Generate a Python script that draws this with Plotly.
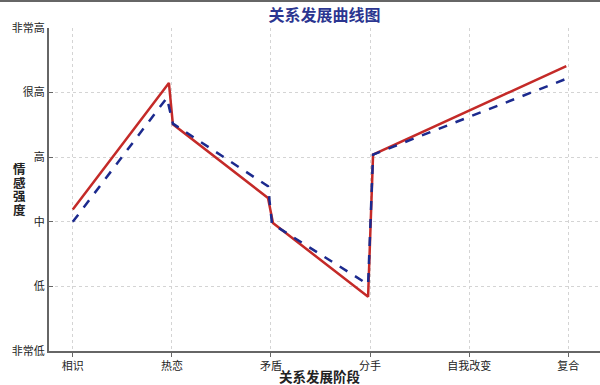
import plotly.graph_objects as go

categories = ["相识", "热恋", "矛盾", "分手", "自我改变", "复合"]
level_labels = ["非常低", "低", "中", "高", "很高", "非常高"]

red_x = [0, 0.97, 1.01, 1.97, 2.02, 2.98, 3.03, 4.98]
red_y = [2.19, 4.15, 3.51, 2.37, 1.98, 0.84, 3.04, 4.41]

blue_x = [0, 0.95, 1.01, 1.97, 2.01, 2.98, 3.03, 4.99]
blue_y = [2.0, 3.92, 3.52, 2.55, 1.97, 1.03, 3.04, 4.22]

y_title_chars = ["情", "感", "强", "度"]

font = "Noto Sans CJK SC"

fig = go.Figure()
fig.add_trace(go.Scatter(x=red_x, y=red_y, mode="lines",
                         line=dict(color="#C42A28", width=2.5), showlegend=False))
fig.add_trace(go.Scatter(x=blue_x, y=blue_y, mode="lines",
                         line=dict(color="#1C2A8E", width=2.5, dash="dash"), showlegend=False))

fig.update_layout(
    width=600, height=385,
    margin=dict(l=49, r=0, t=28, b=34),
    paper_bgcolor="white", plot_bgcolor="white",
    font=dict(family=font, color="#222"),
    title=dict(text="<b>关系发展曲线图</b>", x=(49 + 600) / 2 / 600, xanchor="center",
               y=1 - 15 / 385, yanchor="middle",
               font=dict(size=16, color="#2B3590", family=font)),
)
fig.update_xaxes(
    range=[-0.24, 5.32], tickvals=list(range(len(categories))), ticktext=categories,
    showline=True, linecolor="#666", linewidth=2,
    showgrid=True, gridcolor="#d4d4d4", griddash="dot", gridwidth=1,
    ticks="outside", ticklen=4, tickcolor="#666",
    tickfont=dict(size=11, color="#222"), zeroline=False,
)
fig.update_yaxes(
    range=[0, 5], tickvals=list(range(len(level_labels))), ticktext=level_labels,
    showline=True, linecolor="#666", linewidth=2,
    showgrid=True, gridcolor="#d4d4d4", griddash="dot", gridwidth=1,
    ticks="inside", ticklen=4, tickcolor="#666",
    tickfont=dict(size=11, color="#222"), zeroline=False,
)
spacing = 13.5
n = len(y_title_chars)
for i, ch in enumerate(y_title_chars):
    py = 189 + (i - (n - 1) / 2) * spacing
    fig.add_annotation(text="<b>" + ch + "</b>", xref="paper", yref="paper",
                       x=-(49 - 19) / 551, y=(351 - py) / 323, showarrow=False,
                       xanchor="center", yanchor="middle",
                       font=dict(size=12.5, color="#222", family=font))
fig.add_annotation(text="<b>关系发展阶段</b>", xref="paper", yref="paper",
                   x=(320 - 49) / 551, y=-(376 - 351) / 323, showarrow=False,
                   xanchor="center", yanchor="middle",
                   font=dict(size=13.5, color="#222", family=font))
fig.add_shape(type="line", xref="paper", yref="paper", x0=-49 / 551, x1=1,
              y0=1 + 27 / 323, y1=1 + 27 / 323, line=dict(color="#666", width=2))

fig.write_html("out.html")
